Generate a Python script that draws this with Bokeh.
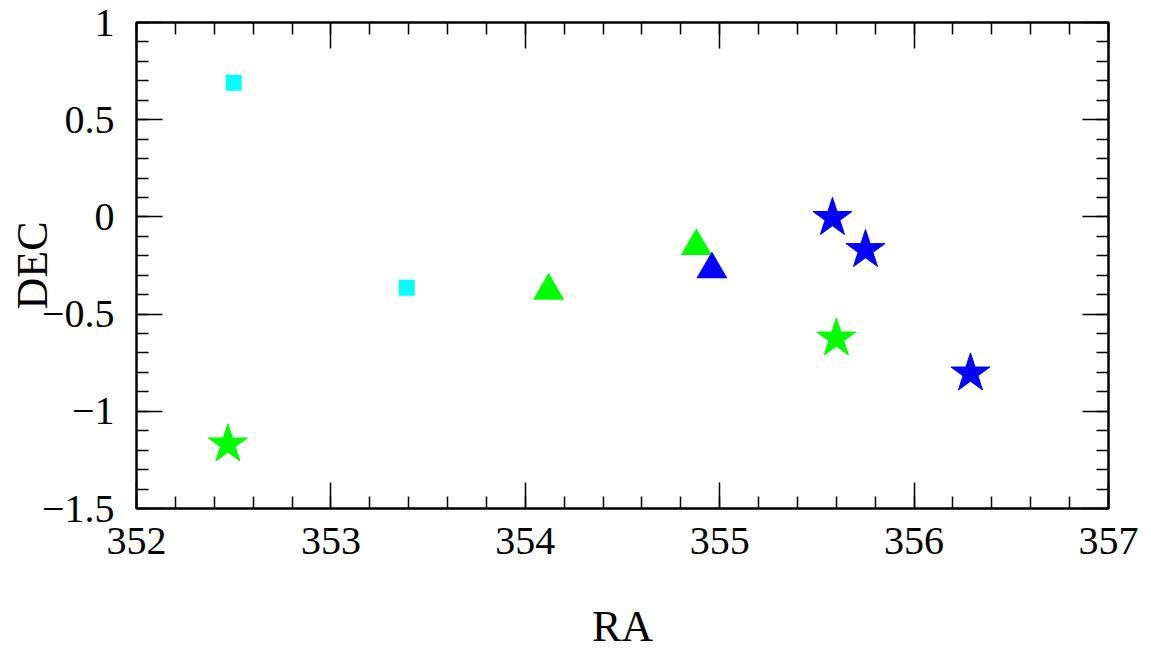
from bokeh.plotting import figure
from bokeh.models import LinearAxis, FixedTicker, Range1d
from bokeh.embed import file_html
from bokeh.resources import INLINE

# ---- data ----
sq_cyan_ra = [352.50, 353.39]
sq_cyan_dec = [0.69, -0.365]

tri_green_ra = [354.12, 354.88]
tri_green_dec = [-0.38, -0.15]

tri_blue_ra = [354.96]
tri_blue_dec = [-0.27]

star_green_ra = [352.47, 355.60]
star_green_dec = [-1.17, -0.625]

star_blue_ra = [355.58, 355.75, 356.29]
star_blue_dec = [-0.005, -0.17, -0.805]

x_ticks = [352, 353, 354, 355, 356, 357]
y_ticks = [-1.5, -1.0, -0.5, 0.0, 0.5, 1.0]
y_tick_labels = ["\u22121.5", "\u22121", "\u22120.5", "0", "0.5", "1"]
x_tick_labels = ["352", "353", "354", "355", "356", "357"]

x_minor = [352 + i * 0.2 for i in range(26)]
y_minor = [-1.5 + i * 0.1 for i in range(26)]

W, H = 1151, 653
p = figure(width=W, height=H, output_backend="svg", toolbar_location=None,
           x_range=Range1d(352, 357), y_range=Range1d(-1.5, 1.0),
           x_axis_location=None, y_axis_location=None,
           min_border_left=136, min_border_right=W - 1108,
           min_border_top=22, min_border_bottom=H - 508)
p.grid.visible = False
p.background_fill_color = "white"
p.border_fill_color = "white"
p.outline_line_color = "black"
p.outline_line_width = 2

FONT = "Liberation Serif"

def style(ax, ticks, minor, labels, show):
    ax.ticker = FixedTicker(ticks=ticks, minor_ticks=minor)
    ax.axis_line_color = "black"
    ax.axis_line_width = 2
    ax.major_tick_line_color = "black"
    ax.major_tick_line_width = 1.5
    ax.minor_tick_line_color = "black"
    ax.minor_tick_line_width = 1.5
    ax.major_tick_in = 26
    ax.major_tick_out = 0
    ax.minor_tick_in = 12
    ax.minor_tick_out = 0
    if show:
        ax.major_label_overrides = {t: l for t, l in zip(ticks, labels)}
        ax.major_label_text_font = FONT
        ax.major_label_text_font_size = "40px"
        ax.major_label_text_color = "black"
    else:
        ax.major_label_text_color = None
        ax.major_label_text_font_size = "8px"
        ax.major_label_standoff = 0

bottom = LinearAxis(axis_label="RA")
style(bottom, x_ticks, x_minor, x_tick_labels, True)
bottom.major_label_standoff = 19
bottom.axis_label_text_font = FONT
bottom.axis_label_text_font_size = "44px"
bottom.axis_label_text_font_style = "normal"
bottom.axis_label_text_color = "black"
bottom.axis_label_standoff = 45
p.add_layout(bottom, "below")

top = LinearAxis()
style(top, x_ticks, x_minor, x_tick_labels, False)
p.add_layout(top, "above")

left = LinearAxis(axis_label="DEC")
style(left, y_ticks, y_minor, y_tick_labels, True)
left.major_label_standoff = 22
left.axis_label_text_font = FONT
left.axis_label_text_font_size = "44px"
left.axis_label_text_font_style = "normal"
left.axis_label_text_color = "black"
left.axis_label_standoff = -18
p.add_layout(left, "left")

right = LinearAxis()
style(right, y_ticks, y_minor, y_tick_labels, False)
p.add_layout(right, "right")

# ---- markers ----
p.scatter(sq_cyan_ra, sq_cyan_dec, marker="square", size=16,
          fill_color="#00ffff", line_color="#00ffff", line_width=0)
p.scatter(tri_green_ra, tri_green_dec, marker="triangle", size=31,
          fill_color="#00ff00", line_color="#00ff00", line_width=0)
p.scatter(tri_blue_ra, tri_blue_dec, marker="triangle", size=31,
          fill_color="#0000ff", line_color="#0000ff", line_width=0)
p.scatter(star_green_ra, star_green_dec, marker="star", size=41,
          fill_color="#00ff00", line_color="#00ff00", line_width=1)
p.scatter(star_blue_ra, star_blue_dec, marker="star", size=41,
          fill_color="#0000ff", line_color="#0000ff", line_width=1)

open("out.html", "w").write(file_html(p, INLINE))
